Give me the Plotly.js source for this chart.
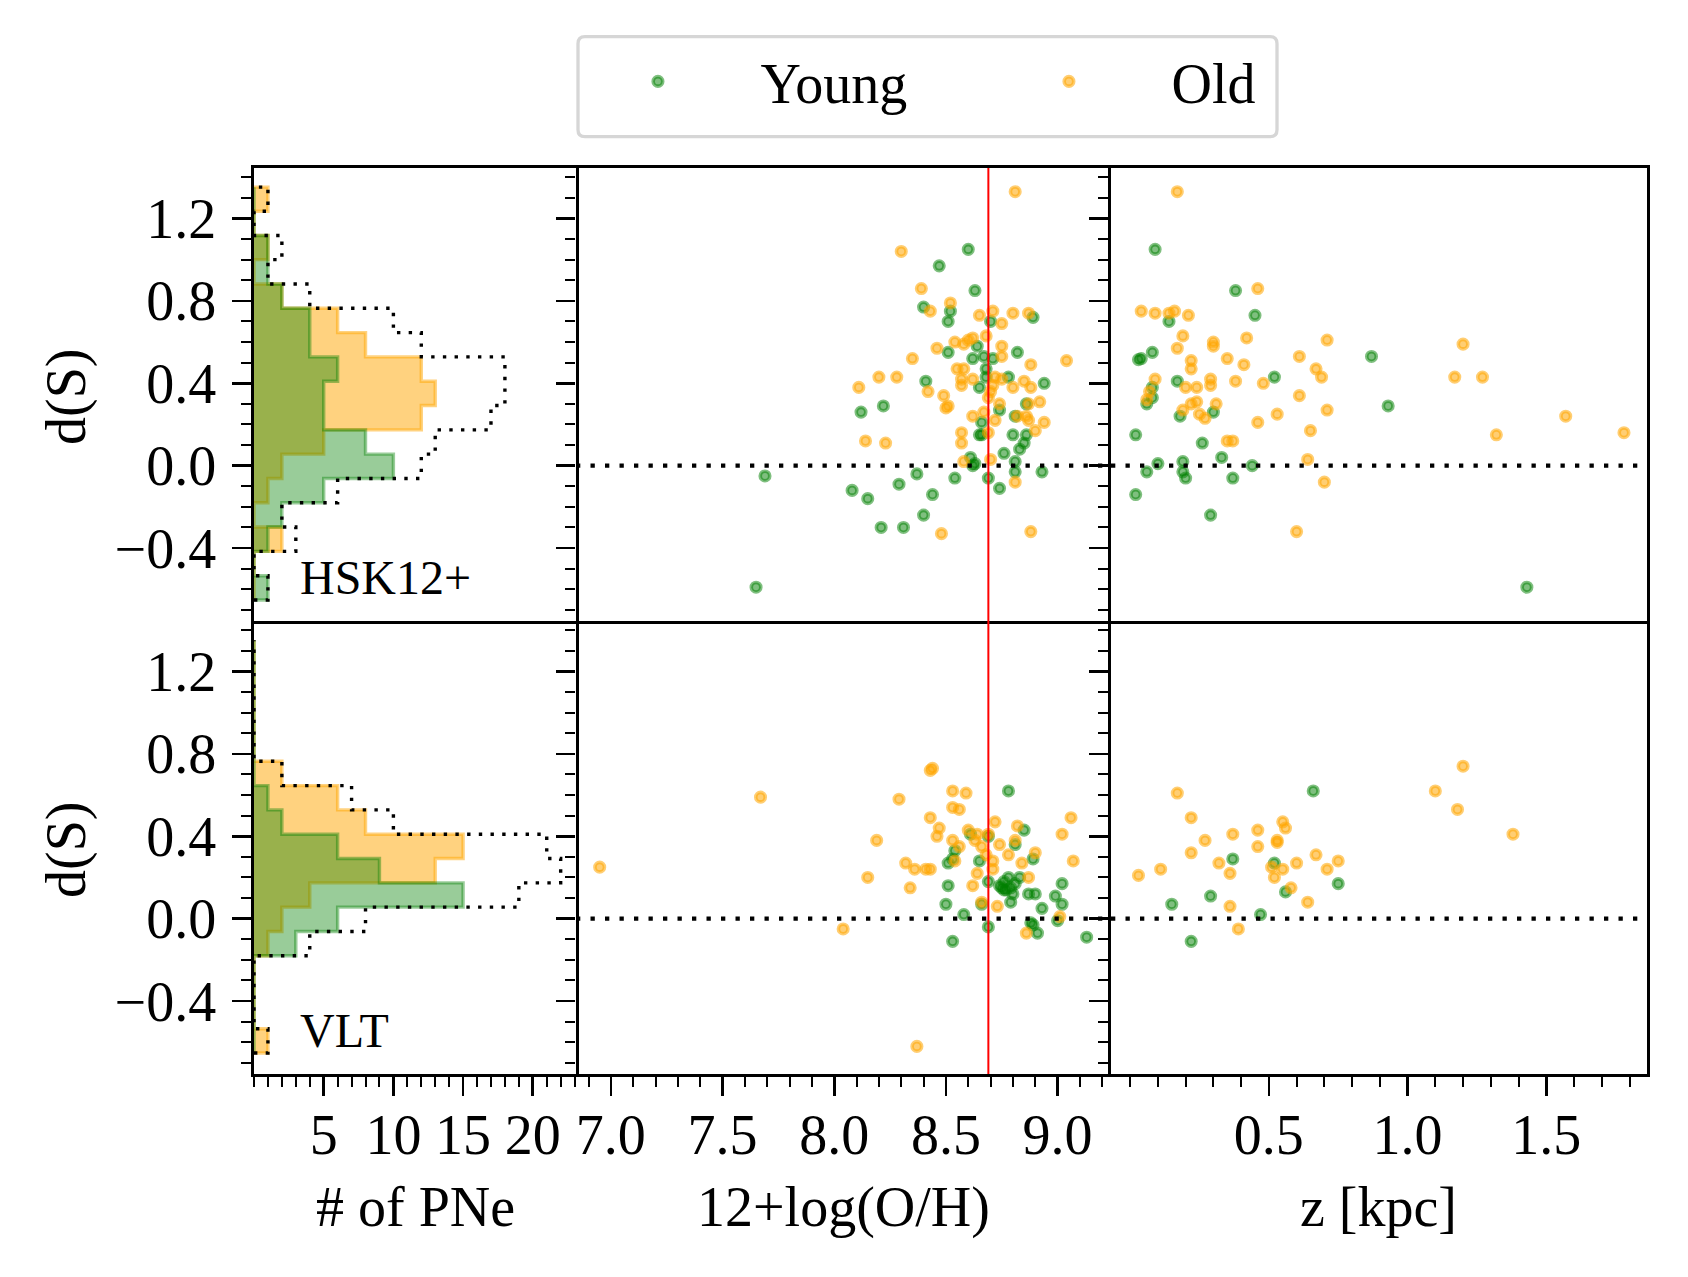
<!DOCTYPE html>
<html>
<head>
<meta charset="utf-8">
<script src="https://cdn.plot.ly/plotly-3.0.1.min.js"></script>
<style>html,body{margin:0;padding:0;background:#fff;}#chart{width:1688px;height:1277px;}</style>
</head>
<body>
<div id="chart"></div>
<script>
// ---------------- data ----------------
// shared histogram bin edges in d(S)
const binEdges = [-0.652, -0.534, -0.416, -0.298, -0.180, -0.062, 0.056, 0.174, 0.292,
                  0.410, 0.528, 0.646, 0.764, 0.882, 1.000, 1.117, 1.235, 1.352];
// HSK12+ histogram counts (per bin, bottom to top)
const hskYoungCounts = [1,0,1,2,5,10,8,5,5,6,4,4,2,1,1,0,0];
const hskOldCounts   = [0,0,2,0,1,2,5,12,13,12,8,6,2,0,1,0,1];
// VLT histogram counts
const vltYoungCounts = [0,0,0,0,3,6,15,9,6,2,1,0,0,0,0,0,0];
const vltOldCounts   = [1,0,0,0,1,2,4,13,15,8,6,2,0,0,0,0,0];

// HSK12+ : 12+log(O/H) vs d(S)
const hskYoungOH = [8.60,8.47,8.63,8.40,8.52,8.51,8.70,8.89,8.64,8.51,8.62,8.67,8.71,8.82,8.68,8.68,8.78,8.41,8.94,8.65,
                    8.22,8.12,8.74,8.86,8.81,8.66,8.65,8.66,8.80,8.86,8.85,8.83,8.76,8.61,8.63,8.62,8.81,8.81,8.93,7.69,
                    8.37,8.54,8.69,8.29,8.08,8.15,8.44,8.74,8.40,8.21,8.31,7.65];
const hskYoungOHdS = [1.05,0.97,0.85,0.77,0.75,0.70,0.70,0.72,0.58,0.55,0.52,0.53,0.52,0.55,0.47,0.43,0.43,0.41,0.40,0.38,
                      0.29,0.26,0.27,0.30,0.24,0.21,0.15,0.15,0.15,0.15,0.11,0.08,0.06,0.04,0.01,0.00,0.02,-0.03,-0.03,-0.05,
                      -0.04,-0.06,-0.06,-0.09,-0.12,-0.16,-0.14,-0.11,-0.24,-0.30,-0.30,-0.59];
const hskOldOH = [8.81,8.30,8.39,8.52,8.43,8.65,8.71,8.80,8.87,8.75,8.68,8.62,8.60,8.54,8.58,8.46,8.75,8.75,8.35,9.04,
                  8.88,8.55,8.58,8.57,8.62,8.72,8.75,8.57,8.20,8.28,8.11,8.42,8.49,8.51,8.50,8.71,8.70,8.80,8.85,8.88,
                  8.69,8.74,8.92,8.87,8.62,8.67,8.72,8.82,8.86,8.87,8.94,8.90,8.69,8.57,8.57,8.14,8.23,8.70,8.58,8.81,
                  8.48,8.88];
const hskOldOHdS = [1.33,1.04,0.86,0.79,0.75,0.73,0.75,0.74,0.74,0.69,0.63,0.62,0.61,0.60,0.59,0.57,0.58,0.53,0.52,0.51,
                    0.49,0.47,0.47,0.42,0.42,0.43,0.42,0.39,0.43,0.43,0.38,0.36,0.34,0.29,0.28,0.39,0.36,0.38,0.41,0.38,
                    0.33,0.30,0.31,0.30,0.24,0.26,0.22,0.24,0.24,0.22,0.21,0.17,0.16,0.16,0.11,0.12,0.11,0.03,0.02,-0.08,
                    -0.33,-0.32];

// HSK12+ : z vs d(S)
const hskYoungZ = [0.09,0.38,0.45,0.14,0.08,0.04,0.03,0.87,0.17,0.52,0.08,0.08,0.06,0.93,0.18,0.30,0.02,0.26,0.33,0.10,
                   0.19,0.44,0.06,0.19,0.20,0.37,0.02,0.29,1.43];
const hskYoungZdS = [1.05,0.85,0.73,0.70,0.55,0.52,0.515,0.53,0.41,0.43,0.38,0.33,0.30,0.29,0.24,0.26,0.15,0.11,0.04,0.01,
                     0.02,0.00,-0.03,-0.03,-0.06,-0.06,-0.14,-0.24,-0.59];
const hskOldZ = [0.17,0.46,0.04,0.09,0.14,0.16,0.21,0.19,0.17,0.30,0.30,0.42,0.71,1.20,0.61,0.35,0.22,0.22,0.41,0.67,
                 0.69,0.09,0.29,0.38,1.17,1.27,0.20,0.24,0.29,0.48,0.07,0.06,0.61,0.22,0.24,0.31,0.19,0.71,0.25,0.27,
                 0.53,0.46,1.57,0.65,1.32,1.78,0.35,0.37,0.64,0.70,0.60];
const hskOldZdS = [1.33,0.86,0.75,0.74,0.74,0.75,0.73,0.63,0.57,0.60,0.58,0.62,0.61,0.59,0.53,0.52,0.51,0.47,0.49,0.47,
                   0.43,0.42,0.42,0.41,0.43,0.43,0.38,0.38,0.39,0.40,0.36,0.32,0.34,0.30,0.31,0.30,0.27,0.27,0.25,0.23,
                   0.25,0.21,0.24,0.17,0.15,0.16,0.12,0.12,0.03,-0.08,-0.32];

// VLT : 12+log(O/H) vs d(S)
const vltYoungOH = [8.78,8.85,8.61,8.69,8.54,8.51,8.53,8.65,8.81,8.89,8.69,8.78,8.74,8.76,8.81,8.83,8.80,8.77,8.51,9.02,
                    8.87,8.90,8.99,9.02,8.79,8.50,8.66,8.93,8.58,9.00,8.88,8.89,8.91,8.69,8.53,9.13,8.76,8.79,8.75];
const vltYoungOHdS = [0.62,0.43,0.41,0.40,0.33,0.27,0.29,0.28,0.36,0.29,0.18,0.20,0.16,0.14,0.17,0.20,0.12,0.14,0.16,0.17,
                      0.12,0.12,0.11,0.07,0.08,0.07,0.07,0.05,0.02,-0.01,-0.02,-0.03,-0.07,-0.04,-0.11,-0.09,0.18,0.15,0.15];
const vltOldOH = [6.95,7.67,8.44,8.43,8.29,8.53,8.59,8.53,8.56,8.43,8.47,8.46,8.19,8.72,8.82,9.06,9.02,8.60,8.64,8.69,
                  8.53,8.56,8.63,8.66,8.74,8.81,8.78,8.90,8.54,8.68,8.71,8.71,8.84,9.07,8.32,8.36,8.41,8.43,8.64,8.87,
                  8.15,8.34,8.62,8.66,8.73,9.01,8.04,8.86,8.37];
const vltOldOHdS = [0.25,0.59,0.73,0.72,0.58,0.62,0.61,0.54,0.53,0.49,0.44,0.40,0.38,0.47,0.45,0.49,0.41,0.43,0.41,0.41,
                    0.38,0.35,0.38,0.35,0.36,0.38,0.31,0.32,0.28,0.31,0.28,0.24,0.27,0.28,0.27,0.24,0.24,0.24,0.22,0.20,
                    0.20,0.15,0.16,0.08,0.06,0.01,-0.05,-0.07,-0.62];

// VLT : z vs d(S)
const vltYoungZ = [0.66,0.37,0.52,0.75,0.56,0.29,0.15,0.47,0.22];
const vltYoungZdS = [0.62,0.29,0.27,0.17,0.13,0.11,0.07,0.02,-0.11];
const vltOldZ = [0.17,0.22,0.27,0.22,0.11,0.03,0.32,0.36,0.37,0.46,0.46,0.55,0.56,0.53,0.53,0.51,0.55,0.52,0.60,0.67,
                 0.71,0.75,0.58,0.64,0.36,0.39,1.20,1.10,1.18,1.38];
const vltOldZdS = [0.61,0.49,0.38,0.32,0.24,0.21,0.27,0.22,0.41,0.43,0.35,0.47,0.44,0.38,0.37,0.25,0.24,0.20,0.27,0.31,
                   0.24,0.28,0.15,0.08,0.06,-0.05,0.74,0.62,0.53,0.41];

const solarOH = 8.69;
const seriesNames = ['Young', 'Old'];
const sampleLabels = ['HSK12+', 'VLT'];
const axisTitles = {dS: 'd(S)', n: '# of PNe', oh: '12+log(O/H)', z: 'z [kpc]'};

// ---------------- styling ----------------
const FONT = 'Liberation Serif';
const FS = 56;
const GREEN = 'rgba(0,128,0,0.5)';
const ORANGE = 'rgba(255,165,0,0.55)';
const GREEN_H = 'rgba(0,128,0,0.4)';
const ORANGE_H = 'rgba(255,165,0,0.5)';
const yRange = [-0.754, 1.445];
const LW = 2.6;

function stepPath(counts) {
  const xs = [0], ys = [binEdges[0]];
  counts.forEach((c, i) => { xs.push(c, c); ys.push(binEdges[i], binEdges[i + 1]); });
  xs.push(0); ys.push(binEdges[binEdges.length - 1]);
  return {xs, ys};
}

const traces = [];
function addHist(young, old, xa, ya) {
  const total = young.map((v, i) => v + old[i]);
  const po = stepPath(old), pg = stepPath(young), pt = stepPath(total);
  traces.push({type:'scatter', mode:'lines', x:po.xs, y:po.ys, xaxis:xa, yaxis:ya, fill:'toself',
    fillcolor:ORANGE_H, line:{color:ORANGE_H, width:3.4}, showlegend:false, hoverinfo:'skip'});
  traces.push({type:'scatter', mode:'lines', x:pg.xs, y:pg.ys, xaxis:xa, yaxis:ya, fill:'toself',
    fillcolor:GREEN_H, line:{color:GREEN_H, width:3.4}, showlegend:false, hoverinfo:'skip'});
  traces.push({type:'scatter', mode:'lines', x:pt.xs, y:pt.ys, xaxis:xa, yaxis:ya,
    line:{color:'black', width:3.4, dash:'3.4px,8.3px'}, showlegend:false, hoverinfo:'skip'});
}
function addScatter(x, y, xa, ya, col, name, legend) {
  traces.push({type:'scatter', mode:'markers', x:x, y:y, xaxis:xa, yaxis:ya, name:name,
    showlegend:legend, marker:{size:9.5, color:col, line:{color:col, width:3.6}}});
}

addHist(hskYoungCounts, hskOldCounts, 'x', 'y');
addHist(vltYoungCounts, vltOldCounts, 'x4', 'y4');
addScatter(hskYoungOH, hskYoungOHdS, 'x2', 'y2', GREEN, seriesNames[0], true);
addScatter(hskOldOH, hskOldOHdS, 'x2', 'y2', ORANGE, seriesNames[1], true);
addScatter(hskYoungZ, hskYoungZdS, 'x3', 'y3', GREEN, seriesNames[0], false);
addScatter(hskOldZ, hskOldZdS, 'x3', 'y3', ORANGE, seriesNames[1], false);
addScatter(vltYoungOH, vltYoungOHdS, 'x5', 'y5', GREEN, seriesNames[0], false);
addScatter(vltOldOH, vltOldOHdS, 'x5', 'y5', ORANGE, seriesNames[1], false);
addScatter(vltYoungZ, vltYoungZdS, 'x6', 'y6', GREEN, seriesNames[0], false);
addScatter(vltOldZ, vltOldZdS, 'x6', 'y6', ORANGE, seriesNames[1], false);

const XD = [[0, 0.23116], [0.23116, 0.61522], [0.61522, 1]];
const YD = [[0.5, 1], [0, 0.5]];
const baseAx = {linecolor:'black', linewidth:LW, showgrid:false, zeroline:false,
  tickcolor:'black', tickfont:{family:FONT, size:FS, color:'black'}};
const minorY = {ticks:'outside', ticklen:10, tickwidth:2, tickcolor:'black', tick0:0, dtick:0.1};

// col: 0 hist, 1 middle, 2 right
function yAx(domain, col) {
  const a = Object.assign({}, baseAx, {domain:domain, range:yRange, tickmode:'linear', tick0:0, dtick:0.4,
    tickformat:'.1f', ticks:'outside', ticklen:19, tickwidth:LW, showticklabels:col === 0,
    ticklabelstandoff:5, minor:Object.assign({}, minorY)});
  if (col === 1) { a.showline = false; }
  else { a.showline = true; a.mirror = true; }
  return a;
}
function xAx(domain, range, bottom, extra) {
  const a = Object.assign({}, baseAx, {domain:domain, range:range, showline:true});
  if (bottom) {
    Object.assign(a, {mirror:false, ticks:'outside', ticklen:19, tickwidth:LW, showticklabels:true,
      ticklabelstandoff:-9}, extra);
  } else {
    Object.assign(a, {mirror:true, ticks:'', showticklabels:false});
  }
  return a;
}
const minorX = (d) => ({ticks:'outside', ticklen:10, tickwidth:2, tickcolor:'black', tickmode:'linear', tick0:0, dtick:d});
const histX = {tickmode:'array', tickvals:[5,10,15,20], ticktext:['5','10','15','20'], minor:minorX(1)};
const ohX = {tickmode:'linear', tick0:7, dtick:0.5, tickformat:'.1f', minor:minorX(0.1)};
const zX = {tickmode:'array', tickvals:[0.5,1.0,1.5], ticktext:['0.5','1.0','1.5'], minor:minorX(0.1)};

const histRange = [0, 23.1], ohRange = [6.844, 9.239], zRange = [-0.069, 1.863];

const shapes = [];
// legend frame (rounded)
(function(){
  const x0 = 0.23259, x1 = 0.73439, y0 = 1.03455, y1 = 1.14492, rx = 0.005, ry = 0.0077;
  shapes.push({type:'path', xref:'paper', yref:'paper', layer:'below',
    path:`M${x0+rx},${y1} L${x1-rx},${y1} Q${x1},${y1} ${x1},${y1-ry} L${x1},${y0+ry} Q${x1},${y0} ${x1-rx},${y0} L${x0+rx},${y0} Q${x0},${y0} ${x0},${y0+ry} L${x0},${y1-ry} Q${x0},${y1} ${x0+rx},${y1} Z`,
    line:{color:'#d6d6d6', width:3.3}, fillcolor:'white'});
})();
[['x2','y2'],['x3','y3'],['x5','y5'],['x6','y6']].forEach(([xa, ya]) => {
  shapes.push({type:'line', xref:xa + ' domain', yref:ya, x0:0, x1:1, y0:0, y1:0, layer:'above',
    line:{color:'black', width:4.3, dash:'4.3px,10.2px'}});
});
[['x2','y2'],['x5','y5']].forEach(([xa, ya]) => {
  shapes.push({type:'line', xref:xa, yref:ya + ' domain', x0:solarOH, x1:solarOH, y0:0, y1:1, layer:'above',
    line:{color:'red', width:2}});
});

const annFont = {family:FONT, size:FS, color:'black'};
const annotations = [
  {text:axisTitles.dS, xref:'paper', yref:'paper', x:-0.135, y:0.7472, textangle:-90, showarrow:false, font:annFont, xanchor:'center', yanchor:'middle'},
  {text:axisTitles.dS, xref:'paper', yref:'paper', x:-0.135, y:0.2472, textangle:-90, showarrow:false, font:annFont, xanchor:'center', yanchor:'middle'},
  {text:axisTitles.n, xref:'paper', yref:'paper', x:0.1156, y:-0.1468, showarrow:false, font:annFont, xanchor:'center', yanchor:'middle'},
  {text:axisTitles.oh, xref:'paper', yref:'paper', x:0.4232, y:-0.1468, showarrow:false, font:annFont, xanchor:'center', yanchor:'middle'},
  {text:axisTitles.z, xref:'paper', yref:'paper', x:0.8076, y:-0.1468, showarrow:false, font:annFont, xanchor:'center', yanchor:'middle'},
  {text:sampleLabels[0], xref:'paper', yref:'paper', x:0.0316, y:0.548, showarrow:false, font:{family:FONT, size:48, color:'black'}, xanchor:'left', yanchor:'middle'},
  {text:sampleLabels[1], xref:'paper', yref:'paper', x:0.0316, y:0.048, showarrow:false, font:{family:FONT, size:48, color:'black'}, xanchor:'left', yanchor:'middle'}
];

const layout = {
  width:1688, height:1277,
  margin:{l:254, r:41, t:168, b:203, pad:0},
  paper_bgcolor:'white', plot_bgcolor:'rgba(0,0,0,0)',
  font:{family:FONT, size:FS, color:'black'},
  showlegend:true,
  legend:{orientation:'h', x:0.2164, y:1.0955, xanchor:'left', yanchor:'middle',
    bgcolor:'rgba(0,0,0,0)', borderwidth:0, font:{family:FONT, size:FS, color:'black'},
    itemwidth:195, entrywidth:201, entrywidthmode:'pixels', itemclick:false},
  xaxis:xAx(XD[0], histRange, false), yaxis:yAx(YD[0], 0),
  xaxis2:xAx(XD[1], ohRange, false), yaxis2:yAx(YD[0], 1),
  xaxis3:xAx(XD[2], zRange, false), yaxis3:yAx(YD[0], 2),
  xaxis4:xAx(XD[0], histRange, true, histX), yaxis4:yAx(YD[1], 0),
  xaxis5:xAx(XD[1], ohRange, true, ohX), yaxis5:yAx(YD[1], 1),
  xaxis6:xAx(XD[2], zRange, true, zX), yaxis6:yAx(YD[1], 2),
  shapes:shapes, annotations:annotations
};
['yaxis','yaxis2','yaxis3'].forEach((k,i)=>{ layout[k].anchor = ['x','x2','x3'][i]; });
['yaxis4','yaxis5','yaxis6'].forEach((k,i)=>{ layout[k].anchor = ['x4','x5','x6'][i]; });
['xaxis','xaxis2','xaxis3'].forEach((k,i)=>{ layout[k].anchor = ['y','y2','y3'][i]; });
['xaxis4','xaxis5','xaxis6'].forEach((k,i)=>{ layout[k].anchor = ['y4','y5','y6'][i]; });

Plotly.newPlot('chart', traces, layout, {displayModeBar:false, staticPlot:true});
</script>
</body>
</html>
